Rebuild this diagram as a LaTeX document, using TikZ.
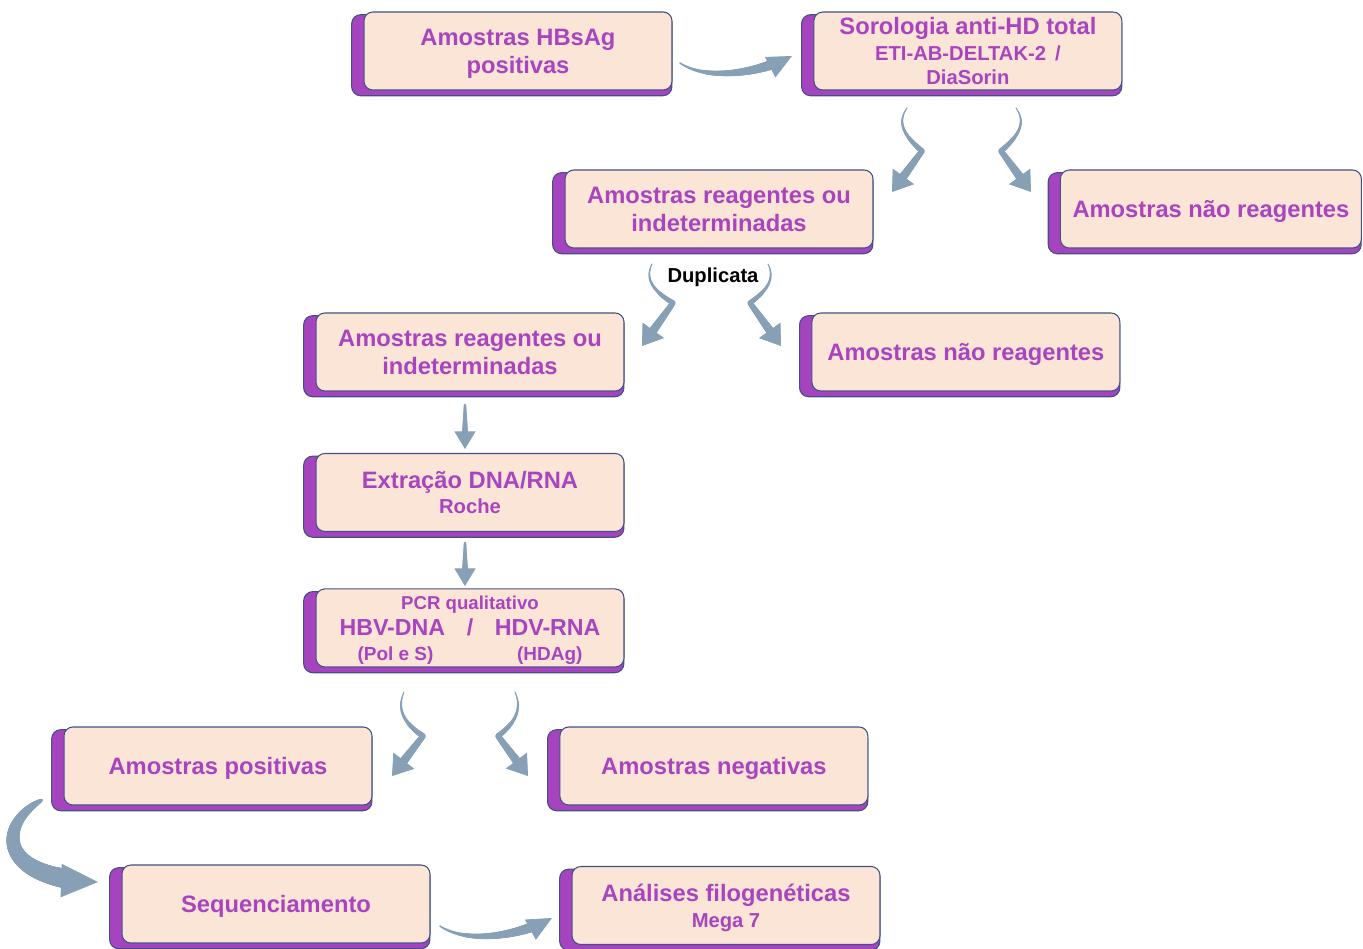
\documentclass[tikz,border=0pt]{standalone}
\usepackage{fontspec}
\setmainfont{Liberation Sans}
\usetikzlibrary{shadows,arrows.meta,decorations.markings}

\definecolor{txtpurple}{RGB}{170,68,190}
\definecolor{backpurple}{RGB}{166,68,192}
\definecolor{peach}{RGB}{251,229,214}
\definecolor{edgeblue}{RGB}{66,80,132}
\definecolor{arrowgray}{RGB}{136,160,182}

\newcommand{\medsize}{\fontsize{11.5}{14}\selectfont}

\tikzset{
  taperexp/.initial=1,
  box/.style={draw=edgeblue, line width=0.6pt, fill=peach, rounded corners=5pt,
    minimum width=6.16cm, minimum height=1.56cm, inner sep=0pt, align=center,
    text depth=0pt, text=txtpurple, font=\fontsize{13.5}{16}\selectfont\bfseries,
    general shadow={fill=backpurple, draw=edgeblue, line width=0.6pt,
      shadow xshift=-3.4pt, shadow yshift=-2.3pt, shadow scale=1.04}},
  % tapered body + head: start radius, end radius, head width, head length
  swoosh/.style n args={4}{draw=arrowgray, line width=0.4pt,
    -{Triangle[width=#3, length=#4]},
    postaction={decorate, decoration={markings,
      mark=between positions 0 and -#4+1pt step 0.4pt with {
        \pgfmathsetmacro\taprad{#1+(#2-#1)*(\pgfkeysvalueof{/pgf/decoration/mark info/distance from start}/\pgfdecoratedpathlength)^\pgfkeysvalueof{/tikz/taperexp}}
        \fill[arrowgray] (0,0) circle (\taprad pt);}}}}
}

\begin{document}
\begin{tikzpicture}[x=0.02cm, y=-0.02cm]
\useasboundingbox (0,0) rectangle (1363,948);

\node[box] (hbsag) at (518,51) {Amostras HBsAg\\positivas};
\node[box, right of=hbsag, node distance=9cm] (sorol) {Sorologia anti-HD total\\[-1.3pt]{\medsize ETI-AB-DELTAK-2 \,/}\\[-2pt]{\medsize DiaSorin}};

\node[box] (reagA) at (719,209) {Amostras reagentes ou\\indeterminadas};
\node[box, minimum width=6.02cm, right of=reagA, node distance=9.84cm] (naoA) {Amostras não reagentes};
\node[font=\medsize\bfseries] (dupl) at (713,277) {Duplicata};

\node[box] (reagB) at (470,352) {Amostras reagentes ou\\indeterminadas};
\node[box, right of=reagB, node distance=9.92cm] (naoB) {Amostras não reagentes};

\node[box, below of=reagB, node distance=2.81cm] (extr) {Extração DNA/RNA\\[-1.6pt]{\medsize Roche}};
\node[box, below of=extr, node distance=2.71cm] (pcr) {{\fontsize{10.6}{13}\selectfont PCR qualitativo}\\[-1pt]{\fontsize{13.2}{15}\selectfont\makebox[5.22cm]{HBV-DNA\hfill/\hfill HDV-RNA}}\\[-2pt]{\fontsize{10.8}{13}\selectfont\makebox[4.5cm]{(Pol e S)\hfill(HDAg)}}};

\node[box] (posit) at (218,766) {Amostras positivas};
\node[box, right of=posit, node distance=9.92cm] (negat) {Amostras negativas};

\node[box] (seq) at (276,904) {Sequenciamento};
\node[box] (filo) at (726,905.5) {Análises filogenéticas\\[-1pt]{\medsize Mega 7}};

% arrow ends
\coordinate (s1) at (680,63);   \coordinate (e1) at (792,56);
\coordinate (s2) at (907,108);  \coordinate (e2) at (892,192);
\coordinate (s3) at (1016,108); \coordinate (e3) at (1031,192);
\coordinate (s4) at (652,264);  \coordinate (e4) at (642,346);
\coordinate (s5) at (768,264);  \coordinate (e5) at (781,346);
\coordinate (s6) at (465,405);  \coordinate (e6) at (465,449);
\coordinate (s7) at (465,543);  \coordinate (e7) at (465,586);
\coordinate (s8) at (404,692);  \coordinate (e8) at (392,776);
\coordinate (s9) at (515,692);  \coordinate (e9) at (528,776);
\coordinate (s10) at (42,800);  \coordinate (e10) at (98,882);
\coordinate (s11) at (440,926); \coordinate (e11) at (552,918);

\draw[swoosh={0.5}{3.4}{13pt}{14pt}] (s1) .. controls (705,80) and (755,75) .. (e1);
\draw[swoosh={0.3}{2.9}{15pt}{11pt}] (s2) .. controls (897,122) and (903,135) .. (922,151) -- (e2);
\draw[swoosh={0.3}{2.9}{15pt}{11pt}] (s3) .. controls (1026,122) and (1020,135) .. (1001,151) -- (e3);
\draw[swoosh={0.3}{2.9}{15pt}{11pt}] (s4) .. controls (644,280) and (655,292) .. (673,303) -- (e4);
\draw[swoosh={0.3}{2.9}{15pt}{11pt}] (s5) .. controls (776,280) and (765,292) .. (750,303) -- (e5);
\draw[swoosh={0.8}{2.1}{12pt}{10pt}] (s6) -- (e6);
\draw[swoosh={0.8}{2.1}{12pt}{10pt}] (s7) -- (e7);
\draw[swoosh={0.3}{2.9}{15pt}{11pt}] (s8) .. controls (396,710) and (405,724) .. (423,736) -- (e8);
\draw[swoosh={0.3}{2.9}{15pt}{11pt}] (s9) .. controls (523,710) and (514,724) .. (498,736) -- (e9);
\draw[taperexp=0.55, swoosh={0.6}{6.3}{19pt}{21pt}] (s10) .. controls (0,822) and (-8,878) .. (e10);
\draw[swoosh={0.5}{3.4}{13pt}{14pt}] (s11) .. controls (465,943) and (515,938) .. (e11);
\end{tikzpicture}
\end{document}
